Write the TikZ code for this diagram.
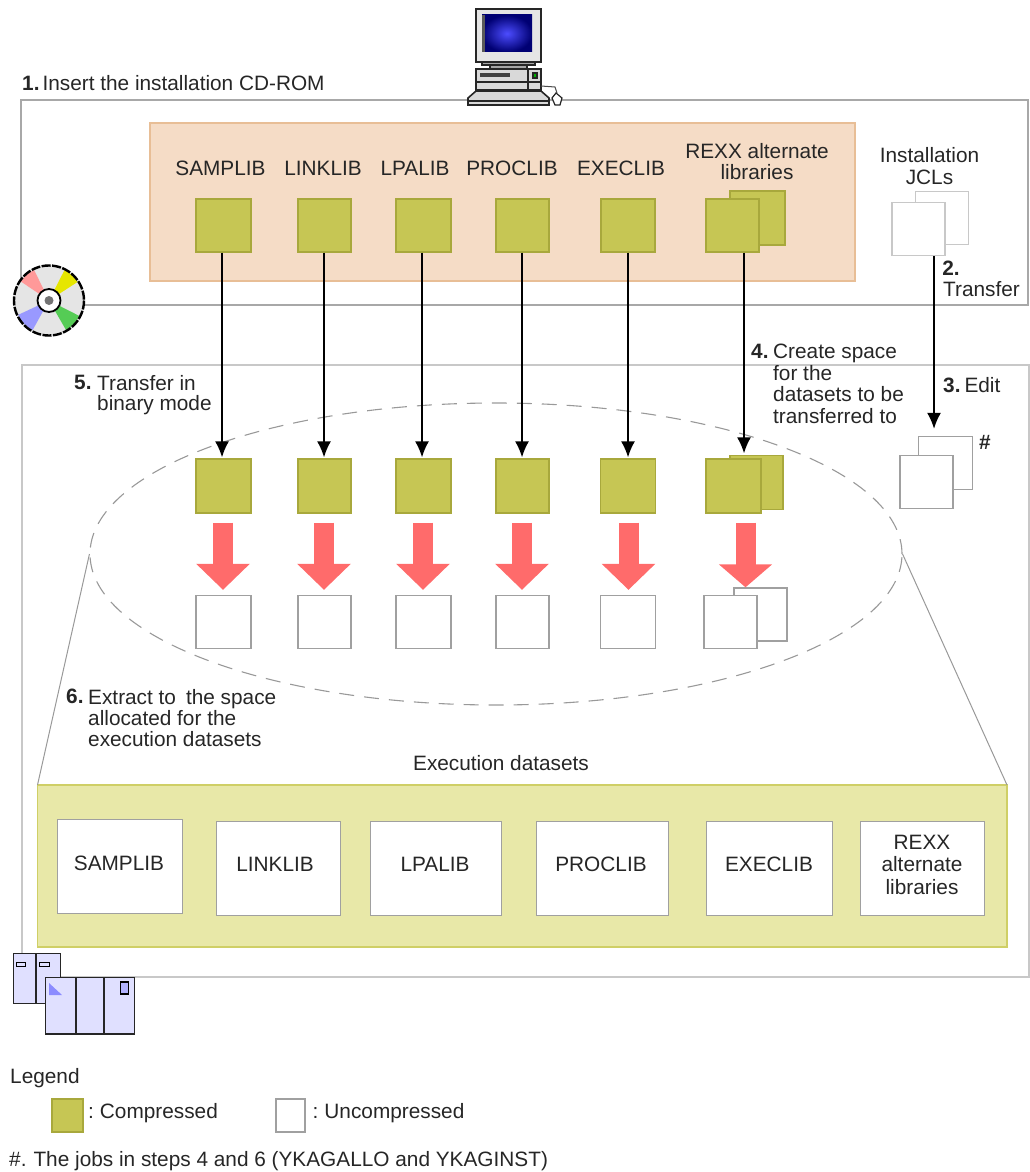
\documentclass[tikz,border=0pt]{standalone}
\usepackage{fontspec}
\setmainfont{Liberation Sans}
\usetikzlibrary{arrows.meta,calc,shapes.geometric}
\definecolor{olive}{HTML}{C6C654}
\definecolor{oliveb}{HTML}{A8A83C}
\definecolor{peach}{HTML}{F5DCC6}
\definecolor{peachb}{HTML}{E8BE96}
\definecolor{pale}{HTML}{E8E8A8}
\definecolor{paleb}{HTML}{CFCF66}
\definecolor{frameA}{HTML}{A8A8A8}
\definecolor{frameB}{HTML}{C8C8C8}
\definecolor{boxg}{HTML}{A0A0A0}
\definecolor{redarr}{HTML}{FF6B6B}
\definecolor{lav}{HTML}{E0E0FF}
\definecolor{cdpink}{HTML}{FF9999}
\definecolor{cdyellow}{HTML}{E6E600}
\definecolor{cdgreen}{HTML}{55CC55}
\definecolor{cdblue}{HTML}{9999FF}
\tikzset{
  txt/.style={font=\fontsize{20.8}{21.5}\selectfont,inner sep=0pt,text=black!85},
  comp/.style={draw=oliveb,fill=olive,line width=1.3pt,minimum width=#1,minimum height=54pt,inner sep=0pt},
  comp/.default=54pt,
  unc/.style={draw=boxg,fill=white,line width=1.3pt,minimum width=#1,minimum height=53pt,inner sep=0pt},
  unc/.default=54pt,
  jcl/.style={draw=frameB,fill=white,line width=1.3pt,minimum width=53pt,minimum height=53pt,inner sep=0pt},
  exe/.style={draw=boxg,fill=white,line width=1.4pt,minimum height=94pt,inner sep=0pt},
  exelab/.style={txt,align=center,font=\fontsize{20.8}{22.5}\selectfont},
  conn/.style={draw=black,line width=1.7pt,-{Latex[length=16pt,width=14pt]}},
  bigarr/.style={draw=redarr,line width=20pt,-{Triangle[length=26pt,width=52pt]},shorten <=9pt,shorten >=5pt},
  iconl/.style={draw=black!85,line width=1.6pt},
  ellip/.style={draw=black!40,dash pattern=on 15pt off 10pt,line width=1.1pt},
  side/.style={draw=black!40,line width=1pt},
}
\begin{document}
\begin{tikzpicture}[x=1pt,y=-1pt]
\useasboundingbox (0,0) rectangle (1029,1172);
% frames
\draw[draw=frameA,line width=1.2pt] (21,100) -- (1028,100) -- (1028,305) -- (21,305) -- cycle;
\draw[draw=frameB,line width=1.2pt] (22,365) rectangle (1029,977);
\node[txt,anchor=west] (t1) at (22,83) {\textbf{1.}\hspace{3pt}Insert the installation CD-ROM};
% peach
\draw[draw=peachb,fill=peach,line width=1.3pt] (150,123) rectangle (855,281);
% top labels
\node[txt] (l1) at (220.5,168) {SAMPLIB};
\node[txt] (l2) at (323,168) {LINKLIB};
\node[txt] (l3) at (415,168) {LPALIB};
\node[txt] (l4) at (512,168) {PROCLIB};
\node[txt] (l5) at (621,168) {EXECLIB};
\node[txt,align=center] (l6) at (757,161.5) {REXX alternate\\libraries};
\node[txt,align=center] (l7) at (929.5,166) {Installation\\JCLs};
% top squares
\node[comp=55pt,minimum height=53pt] (s1) at (223.5,225.5) {};
\node[comp=53pt,minimum height=53pt] (s2) at (324.5,225.5) {};
\node[comp=55pt,minimum height=53pt] (s3) at (423.5,225.5) {};
\node[comp=53pt,minimum height=53pt] (s4) at (522.5,225.5) {};
\node[comp=54pt,minimum height=53pt] (s5) at (628,225.5) {};
\node[comp=55pt] (s6b) at (757.5,218) {};
\node[comp=53pt,minimum height=53pt] (s6) at (732.5,225.5) {};
\node[jcl] (j1b) at (942,218) {};
\node[jcl] (j1) at (918.5,229) {};
% lower compressed
\node[comp=55pt] (d1) at (223.5,486) {};
\node[comp=53pt] (d2) at (324.5,486) {};
\node[comp=55pt] (d3) at (423.5,486) {};
\node[comp=53pt] (d4) at (522.5,486) {};
\node[comp=55pt] (d5) at (628,486) {};
\node[comp=53pt] (d6b) at (756.5,482.5) {};
\node[comp=55pt] (d6) at (733.5,486) {};
% ellipse
\node[ellip,ellipse,minimum width=812pt,minimum height=302pt,inner sep=0pt] (ell) at (496,554) {};
% uncompressed
\node[unc=55pt] (u1) at (223.5,622) {};
\node[unc=53pt] (u2) at (324.5,622) {};
\node[unc=55pt] (u3) at (423.5,622) {};
\node[unc=53pt] (u4) at (522.5,622) {};
\node[unc=55pt] (u5) at (628,622) {};
\node[unc=53pt] (u6b) at (760.5,614.5) {};
\node[unc=53pt] (u6) at (730.5,622) {};
% edited JCL
\node[unc=54pt] (e1b) at (945.5,463) {};
\node[unc=53pt] (e1) at (926.5,482) {};
\node[txt,font=\fontsize{20.8}{21.5}\bfseries] (hash) at (985,442) {\#};
% arrows
\foreach \n/\dx in {1/-1.5,2/-0.5,3/-1.5,4/-0.5,5/0}{
  \draw[conn,shorten >=1pt] ([xshift=\dx pt]s\n.south) -- ([xshift=\dx pt]d\n.north);
}
\draw[conn,shorten >=5pt] ([xshift=11.5pt]s6.south) -- ([xshift=10.5pt]d6.north);
\draw[conn,shorten >=7pt] ([xshift=15.5pt]j1.south) -- ([xshift=15.5pt]j1.south |- e1b.north);
\foreach \n/\dx in {1/-0.5,2/-0.5,3/-0.5,4/-0.5,5/0.5}{
  \draw[bigarr] ([xshift=\dx pt]d\n.south) -- ([xshift=\dx pt]u\n.north);
}
\draw[bigarr,-{Triangle[length=23pt,width=52pt]},shorten >=0pt] ([xshift=12pt]d6.south) -- ([xshift=12pt]d6.south |- u6b.north);
% step labels
\node[txt] (t2n) at (951,268) {\textbf{2.}};
\node[txt,anchor=west] (t2) at (943,289) {Transfer};
\node[txt,anchor=west] (t3) at (943,385) {\textbf{3.}\hspace{4pt}Edit};
\node[txt,anchor=north west] (t4n) at (751,344) {\textbf{4.}};
\node[txt,anchor=north west,align=left] (t4) at (773,344) {Create space\\for the\\datasets to be\\transferred to};
\node[txt,anchor=north west] (t5n) at (74,375) {\textbf{5.}};
\node[txt,anchor=north west,align=left,font=\fontsize{20.8}{20.5}\selectfont] (t5) at (97,375) {Transfer in\\binary mode};
\node[txt,anchor=north west] (t6n) at (66,689) {\textbf{6.}};
\node[txt,anchor=north west,align=left,font=\fontsize{20.8}{21}\selectfont] (t6) at (88,689) {Extract to\hspace{10pt}the space\\allocated for the\\execution datasets};
\node[txt] (t7) at (501,763) {Execution datasets};
% pale box
\draw[draw=paleb,fill=pale,line width=1.3pt] (37.5,785) rectangle (1007,947);
\coordinate (pl) at (37.5,785);
\coordinate (pr) at (1007,785);
\draw[side] (ell.west) -- (pl);
\draw[side] (ell.east) -- (pr);
\node[exe,minimum width=125pt,label={[exelab,xshift=-1pt,yshift=3.5pt]center:SAMPLIB}] (x1) at (120,866.5) {};
\node[exe,minimum width=124pt,label={[exelab,xshift=-3.5pt,yshift=4.5pt]center:LINKLIB}] (x2) at (278.5,868.5) {};
\node[exe,minimum width=131pt,label={[exelab,xshift=-1pt,yshift=4.5pt]center:LPALIB}] (x3) at (436,868.5) {};
\node[exe,minimum width=132pt,label={[exelab,xshift=-1.5pt,yshift=4.5pt]center:PROCLIB}] (x4) at (602.5,868.5) {};
\node[exe,minimum width=126pt,label={[exelab,xshift=-0.5pt,yshift=4.5pt]center:EXECLIB}] (x5) at (769.5,868.5) {};
\node[exe,minimum width=124pt,label={[exelab,xshift=-0.5pt,yshift=4pt]center:{REXX\\alternate\\libraries}}] (x6) at (922.5,868.5) {};
% computer
\draw[iconl,fill=black!10] (476,9) rectangle (541,62);
\shade[inner color=blue!70!white,outer color=blue!45!black] (482,15) rectangle (532,52);
\fill[black!65] (482,15) rectangle (485,52);
\draw[iconl,fill=black!35] (482,62) rectangle (535,65);
\draw[iconl,fill=black!35] (490,65) rectangle (527,69);
\draw[iconl,fill=black!15] (476,69) rectangle (541,90);
\draw[line width=3.5pt,black!75] (480,75) -- (510,75);
\draw[line width=1.6pt,black!85] (528,69) -- (528,90) (476,82) -- (541,82);
\fill[black!85] (532,72) rectangle (538,79);
\fill[green!70!black] (534,74) rectangle (536,77);
\draw[iconl,fill=black!15] (476,91) -- (541,91) -- (549,98) -- (549,105) -- (468,105) -- (468,98) -- cycle;
\draw[iconl] (468,101) -- (549,101);
\draw[black!70,line width=1pt] (541,86) -- (555,87) -- (557,93);
\draw[black!85,fill=white,line width=1.2pt] (556,93) -- (562,98) -- (560,105) -- (555,105) -- (552,98) -- cycle;
% CD
\begin{scope}[shift={(49,300.5)}]
\fill[black!10] (0,0) circle (36);
\fill[cdpink] (0,0) -- (214:34) arc (214:244:34) -- cycle;
\fill[cdyellow] (0,0) -- (-63:34) arc (-63:-33:34) -- cycle;
\fill[cdgreen] (0,0) -- (27:34) arc (27:60:34) -- cycle;
\fill[cdblue] (0,0) -- (119:34) arc (119:155:34) -- cycle;
\draw[black,line width=2.4pt,dash pattern=on 9pt off 1.5pt] (0,0) circle (35);
\fill[white] (0,0) circle (12);
\draw[black,line width=1.8pt] (0,0) circle (11.5);
\fill[black!55] (0,0) circle (4.5);
\end{scope}
% servers
\draw[iconl,fill=lav] (13.5,953.5) rectangle (60.5,1003.5);
\draw[iconl] (36,953.5) -- (36,1003.5);
\draw[black,line width=1pt,fill=lav] (16.5,962) rectangle (25,966);
\draw[black,line width=1pt,fill=lav] (39.5,962) rectangle (49,966);
\draw[iconl,fill=lav] (45.5,977.5) rectangle (134.5,1034);
\draw[iconl] (76,977.5) -- (76,1034) (104,977.5) -- (104,1034);
\fill[blue!45] (49,983) -- (49,995) -- (62,995) -- cycle;
\draw[black,line width=1.3pt,fill=blue!30] (120.5,982) rectangle (128.5,994);
% legend
\node[txt,anchor=west] (lg) at (10,1078) {Legend};
\node[draw=oliveb,fill=olive,line width=1.3pt,minimum width=31pt,minimum height=33pt,inner sep=0pt] (lc) at (67.5,1115.5) {};
\node[txt,anchor=west] (lct) at (88,1113) {:\hspace{6pt}Compressed};
\node[draw=boxg,fill=white,line width=1.3pt,minimum width=29pt,minimum height=33pt,inner sep=0pt] (lu) at (290.5,1115.5) {};
\node[txt,anchor=west] (lut) at (312.5,1113) {:\hspace{6pt}Uncompressed};
\node[txt,anchor=west] (fn) at (9,1161) {\#.\hspace{7pt}The jobs in steps 4 and 6 (YKAGALLO and YKAGINST)};
\end{tikzpicture}
\end{document}
